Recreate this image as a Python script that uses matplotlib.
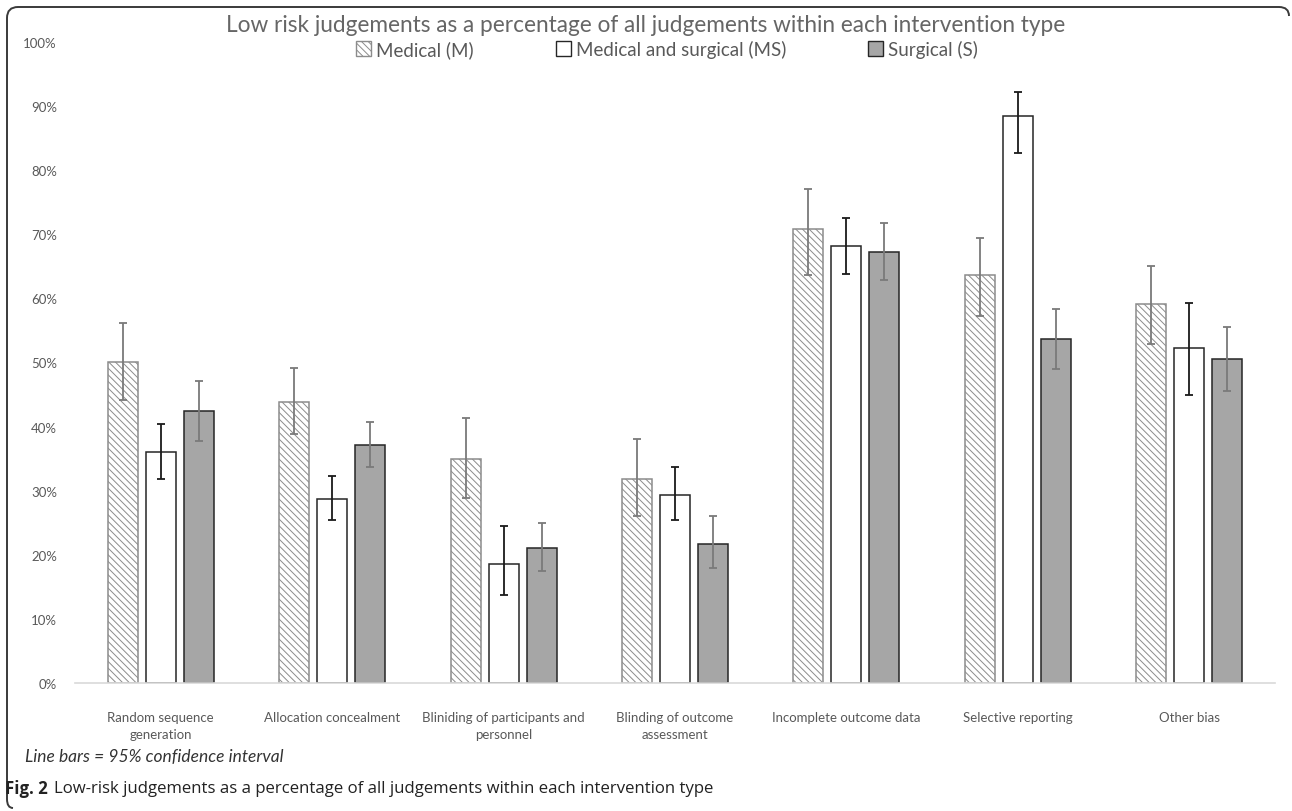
import numpy as np
import matplotlib
matplotlib.use("Agg")
import matplotlib.pyplot as plt
from matplotlib.path import Path
from matplotlib.patches import PathPatch, Patch

categories = ["Random sequence\ngeneration", "Allocation concealment",
              "Bliniding of participants and\npersonnel", "Blinding of outcome\nassessment",
              "Incomplete outcome data", "Selective reporting", "Other bias"]

# percentages, with 95% CI ends
medical = [50.1, 43.9, 34.9, 31.8, 70.8, 63.6, 59.1]
medical_lo = [44.1, 38.9, 28.9, 26.0, 63.6, 57.3, 52.9]
medical_hi = [56.2, 49.2, 41.4, 38.1, 77.1, 69.5, 65.0]

med_surg = [36.1, 28.7, 18.5, 29.4, 68.2, 88.4, 52.2]
med_surg_lo = [31.8, 25.4, 13.7, 25.4, 63.8, 82.7, 45.0]
med_surg_hi = [40.4, 32.3, 24.5, 33.7, 72.5, 92.2, 59.3]

surgical = [42.4, 37.1, 21.0, 21.7, 67.3, 53.7, 50.6]
surgical_lo = [37.7, 33.7, 17.5, 18.0, 62.8, 49.0, 45.5]
surgical_hi = [47.1, 40.7, 25.0, 26.0, 71.8, 58.4, 55.5]

series_names = ["Medical (M)", "Medical and surgical (MS)", "Surgical (S)"]

plt.rcParams['font.family'] = ['Lato', 'DejaVu Sans']
plt.rcParams['hatch.linewidth'] = 0.7

W, H = 1292, 812
fig = plt.figure(figsize=(W / 100, H / 100), dpi=100)

# frame of the figure box, drawn in pixel coords
bg = fig.add_axes([0, 0, 1, 1], zorder=0)
bg.set_xlim(0, W)
bg.set_ylim(H, 0)
bg.axis("off")
verts = [(1289, 17), (1289, 8), (1279, 8), (18, 8), (7, 8), (7, 19),
         (7, 800), (7, 809), (13, 809)]
codes = [Path.MOVETO, Path.CURVE3, Path.CURVE3, Path.LINETO, Path.CURVE3, Path.CURVE3,
         Path.LINETO, Path.CURVE3, Path.CURVE3]
bg.add_patch(PathPatch(Path(verts, codes), fill=False, edgecolor="#3a3a3a", lw=1.4))

ax = fig.add_axes([75 / W, 1 - 684 / H, 1200 / W, 641 / H], zorder=1)
ax.patch.set_alpha(0)

x = np.arange(len(categories))
bw = 0.175
step = 0.222

vals = [medical, med_surg, surgical]
los = [medical_lo, med_surg_lo, surgical_lo]
his = [medical_hi, med_surg_hi, surgical_hi]
faces = ["white", "white", "#a6a6a6"]
edges = ["#8c8c8c", "#262626", "#262626"]
hatches = ["\\\\\\\\\\", None, None]
ecols = ["#7a7a7a", "#1a1a1a", "#7a7a7a"]

for i in range(3):
    v = np.array(vals[i])
    err = [v - np.array(los[i]), np.array(his[i]) - v]
    ax.bar(x + (i - 1) * step, v, bw, color=faces[i], edgecolor=edges[i],
           hatch=hatches[i], linewidth=1.1, zorder=2)
    ax.errorbar(x + (i - 1) * step, v, yerr=err, fmt="none", ecolor=ecols[i],
                elinewidth=1.3, capsize=3.2, capthick=1.3, zorder=3)

ax.set_xlim(-0.5, len(categories) - 0.5)
ax.set_ylim(0, 100)
ax.set_yticks(np.arange(0, 101, 10))
ax.set_yticklabels([f"{t}%" for t in range(0, 101, 10)])
ax.set_xticks(x)
ax.set_xticklabels(categories, fontsize=9.5, color="#595959", linespacing=1.5)
ax.tick_params(axis="x", length=0, pad=20)
ax.tick_params(axis="y", length=0, pad=13, labelsize=9.5, labelcolor="#595959")
for s in ["top", "right", "left"]:
    ax.spines[s].set_visible(False)
ax.spines["bottom"].set_color("#d9d9d9")
ax.spines["bottom"].set_linewidth(1.2)

fig.text(0.5, 1 - 25 / H, "Low risk judgements as a percentage of all judgements within each intervention type",
         ha="center", va="center", fontsize=16.3, color="#666666")

handles = [Patch(facecolor=faces[i], edgecolor=edges[i], hatch=hatches[i], linewidth=1.0)
           for i in range(3)]
fig.legend(handles, series_names, loc="center", bbox_to_anchor=(667 / W, 1 - 50 / H),
           ncol=3, frameon=False, fontsize=13.5, labelcolor="#595959",
           handlelength=0.8, handleheight=0.8, handletextpad=0.25, columnspacing=4.4)

fig.text(25 / W, 1 - 757 / H, "Line bars = 95% confidence interval", ha="left", va="center",
         fontsize=12.5, style="italic", color="#333333")

t1 = fig.text(5 / W, 1 - 789 / H, "Fig. 2", ha="left", va="center", fontsize=12.1,
              fontweight="bold", color="#222222", family=["Open Sans", "DejaVu Sans"])
fig.canvas.draw()
bb = t1.get_window_extent()
fig.text((bb.x1 + 6) / W, 1 - 789 / H,
         "Low-risk judgements as a percentage of all judgements within each intervention type",
         ha="left", va="center", fontsize=12.1, color="#222222", family=["Open Sans", "DejaVu Sans"])

fig.savefig("out.png", dpi=100)
